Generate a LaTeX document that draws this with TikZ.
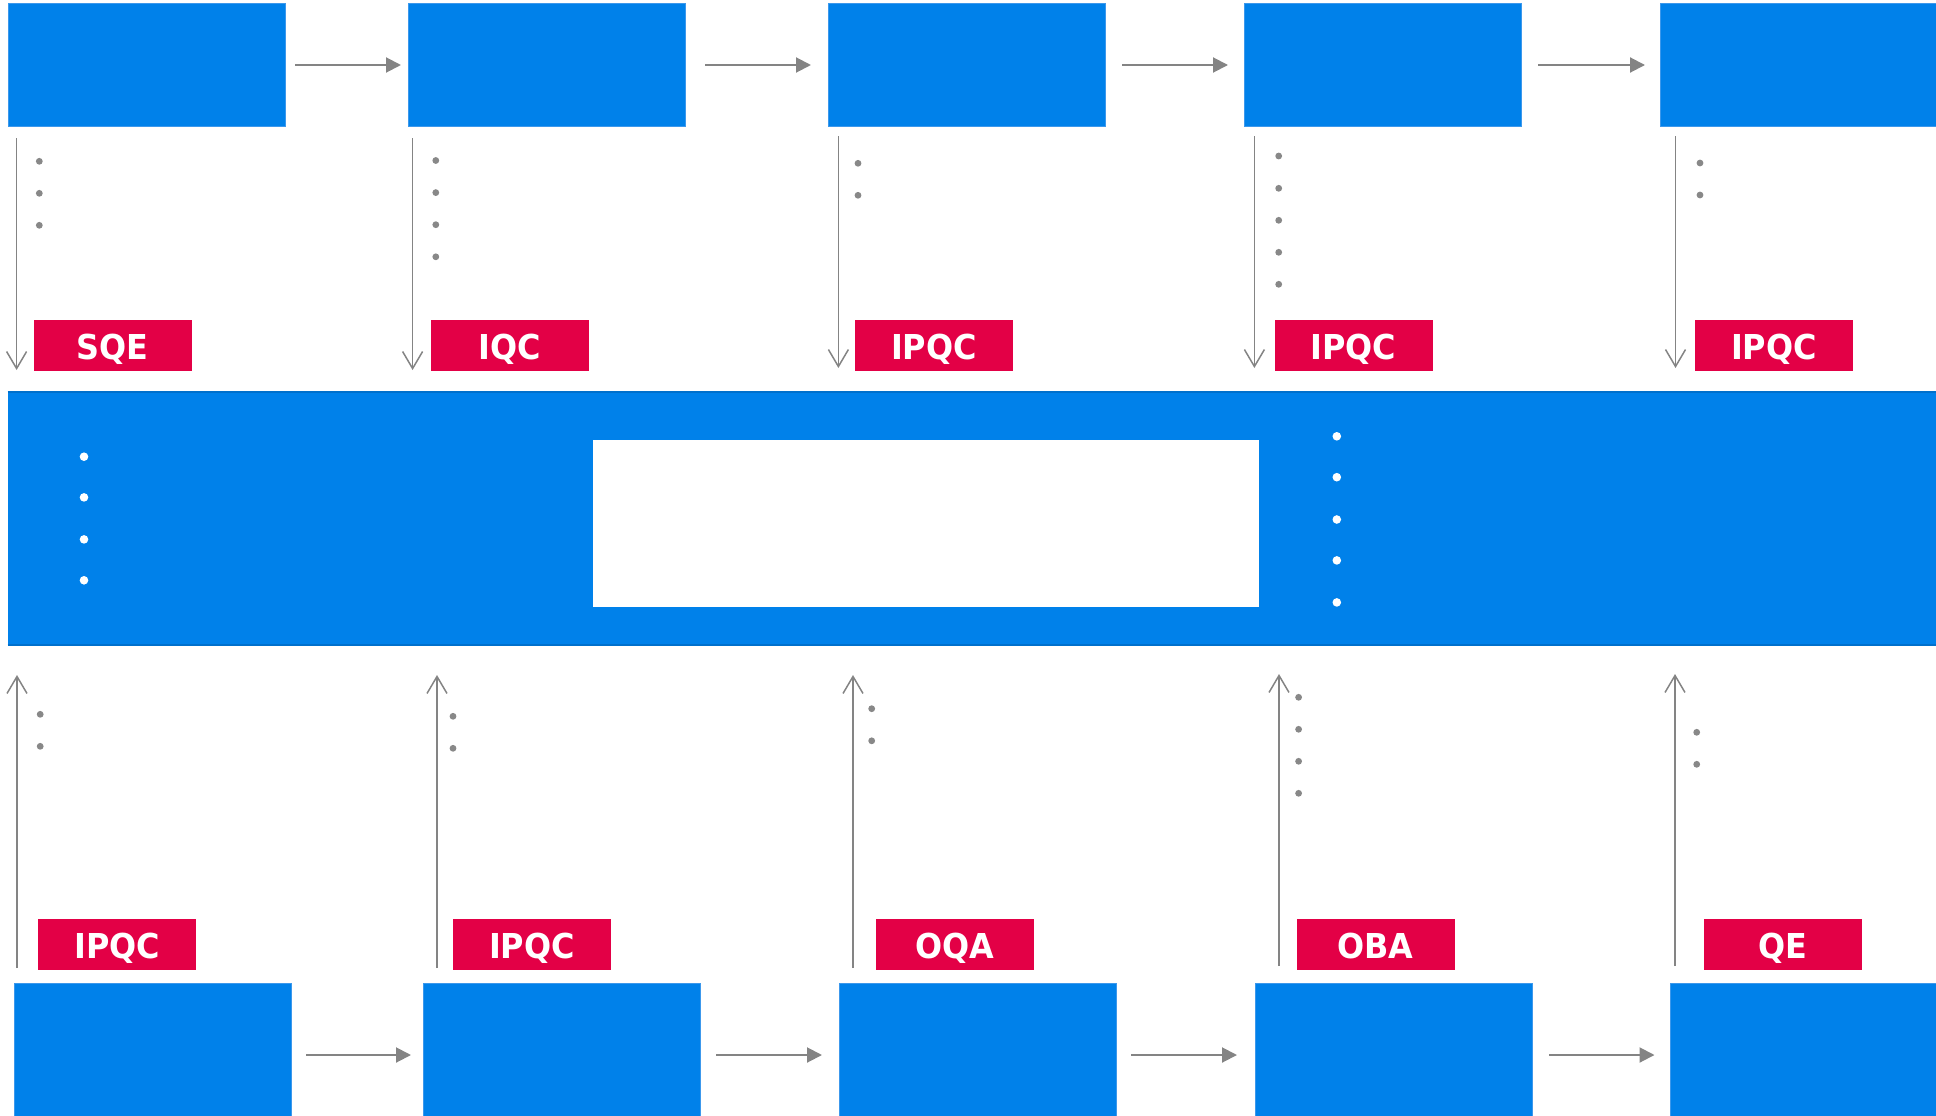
\documentclass[tikz,border=0pt]{standalone}
\usepackage{fontspec}
\newfontfamily\labfont{DejaVu Sans}[FakeStretch=0.93]
\usetikzlibrary{arrows.meta}
\definecolor{cblue}{RGB}{0,129,234}
\definecolor{cblueedge}{RGB}{60,152,236}
\definecolor{cbanddark}{RGB}{0,112,204}
\definecolor{cred}{RGB}{227,0,70}
\definecolor{cgrey}{RGB}{132,132,132}
\definecolor{cdot}{RGB}{136,136,136}
\begin{document}
\begin{tikzpicture}[x=1pt,y=-1pt,
  bluebox/.style={rectangle, fill=cblue, draw=cblueedge, line width=1pt, minimum width=277pt, minimum height=122pt, inner sep=0pt, outer sep=0pt, anchor=north west},
  tag/.style={rectangle, fill=cred, text=white, minimum width=158pt, minimum height=50.5pt, inner sep=0pt, outer sep=0pt, anchor=north west, text height=32pt, text depth=3pt, font=\labfont\bfseries\fontsize{34.3}{40}\selectfont},
  harrow/.style={draw=cgrey, line width=2pt, -{Triangle[length=15pt,width=15pt]}},
  varrow/.style={draw=cgrey, line width=1.5pt, -{Straight Barb[length=17pt,width=20pt,line width=1.5pt]}},
  bandedge/.style={draw=cbanddark, line width=2.5pt},
  gdot/.style={fill=cdot},
  wdot/.style={fill=white}]
\useasboundingbox (0,0) rectangle (1936,1116);
\clip (0,0) rectangle (1936,1116);

% top boxes
\node[bluebox] (t1) at (8.6,4) {};
\node[bluebox] (t2) at (408.7,4) {};
\node[bluebox] (t3) at (828.5,4) {};
\node[bluebox] (t4) at (1244.6,4) {};
\node[bluebox] (t5) at (1660.7,4) {};

\draw[harrow, shorten <=9.4pt, shorten >=7.7pt] (t1) -- (t2);
\draw[harrow, shorten <=19.3pt, shorten >=17.5pt] (t2) -- (t3);
\draw[harrow, shorten <=16.5pt, shorten >=16.6pt] (t3) -- (t4);
\draw[harrow, shorten <=16.4pt, shorten >=15.7pt] (t4) -- (t5);

% top down arrows
\coordinate (d1s) at (16.6,138); \coordinate (d1e) at (16.6,370);
\coordinate (d2s) at (412.6,138); \coordinate (d2e) at (412.6,370);
\coordinate (d3s) at (838.4,136); \coordinate (d3e) at (838.4,368);
\coordinate (d4s) at (1254.4,136); \coordinate (d4e) at (1254.4,368);
\coordinate (d5s) at (1675.5,136); \coordinate (d5e) at (1675.5,368);
\foreach \i in {1,...,5} { \draw[varrow] (d\i s) -- (d\i e); }

% top tags
\node[tag] (l1) at (33.5,320) {SQE};
\node[tag] (l2) at (431,320) {IQC};
\node[tag] (l3) at (855,320) {IPQC};
\node[tag] (l4) at (1274.5,320) {IPQC};
\node[tag] (l5) at (1695,320) {IPQC};

% top grey dots
\foreach \y in {161.3,193.3,225.3} \fill[gdot] (39.3,\y) circle (3.4);
\foreach \y in {160.5,192.6,224.7,256.8} \fill[gdot] (435.8,\y) circle (3.4);
\foreach \y in {163.3,195.3} \fill[gdot] (858,\y) circle (3.4);
\foreach \y in {156,188.3,220.3,252.3,284.3} \fill[gdot] (1278.7,\y) circle (3.4);
\foreach \y in {163,195} \fill[gdot] (1700,\y) circle (3.4);

% central band
\node[rectangle, fill=cblue, minimum width=1960pt, minimum height=253pt, inner sep=0pt, outer sep=0pt, anchor=north west] (band) at (7.5,392) {};
\draw[bandedge] (band.north west) -- (band.north east);
\draw[bandedge] (band.south west) -- (band.south east);
\node[rectangle, fill=white, minimum width=666.5pt, minimum height=166.7pt, inner sep=0pt, outer sep=0pt, anchor=north west] (inner) at (592.7,440) {};
\foreach \y in {456.7,497.4,539.4,580.3} \fill[wdot] (84,\y) circle (4.3);
\foreach \y in {436.3,477.2,519.5,560.4,602.4} \fill[wdot] (1336.8,\y) circle (4.3);

% bottom boxes
\node[bluebox, minimum height=144pt] (b1) at (14.8,983) {};
\node[bluebox, minimum height=144pt] (b2) at (423.3,983) {};
\node[bluebox, minimum height=144pt] (b3) at (839.6,983) {};
\node[bluebox, minimum height=144pt] (b4) at (1255.8,983) {};
\node[bluebox, minimum height=144pt] (b5) at (1670.7,983) {};

\draw[harrow, shorten <=14.2pt, shorten >=12.3pt] (b1) -- (b2);
\draw[harrow, shorten <=15.7pt, shorten >=17.6pt] (b2) -- (b3);
\draw[harrow, shorten <=14.4pt, shorten >=18.8pt] (b3) -- (b4);
\draw[harrow, shorten <=16.2pt, shorten >=16.2pt] (b4) -- (b5);

% bottom up arrows
\coordinate (u1s) at (17,968); \coordinate (u1e) at (17,675);
\coordinate (u2s) at (437,968); \coordinate (u2e) at (437,675);
\coordinate (u3s) at (853,968); \coordinate (u3e) at (853,675);
\coordinate (u4s) at (1279,966); \coordinate (u4e) at (1279,674);
\coordinate (u5s) at (1675,966); \coordinate (u5e) at (1675,674);
\foreach \i in {1,...,5} { \draw[varrow] (u\i s) -- (u\i e); }

% bottom tags
\node[tag] (m1) at (38.3,919) {IPQC};
\node[tag] (m2) at (453,919) {IPQC};
\node[tag] (m3) at (875.5,919) {OQA};
\node[tag] (m4) at (1296.5,919) {OBA};
\node[tag] (m5) at (1704,919) {QE};

% bottom grey dots
\foreach \y in {714.3,746.3} \fill[gdot] (40.2,\y) circle (3.4);
\foreach \y in {716.3,748.3} \fill[gdot] (453,\y) circle (3.4);
\foreach \y in {708.7,740.8} \fill[gdot] (871.7,\y) circle (3.4);
\foreach \y in {697.3,729.3,761.3,793.3} \fill[gdot] (1298.6,\y) circle (3.4);
\foreach \y in {732.3,764.3} \fill[gdot] (1696.7,\y) circle (3.4);
\end{tikzpicture}
\end{document}
